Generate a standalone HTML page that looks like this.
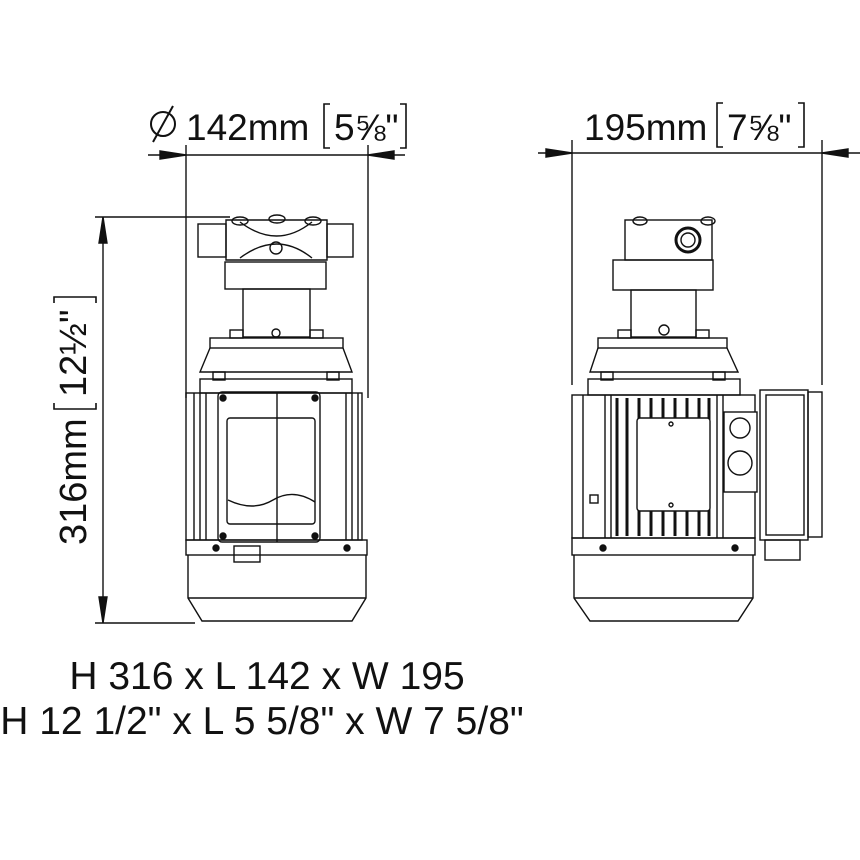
<!DOCTYPE html>
<html><head><meta charset="utf-8"><style>
html,body{margin:0;padding:0;background:#fff;}
svg{display:block;}
text{font-family:"Liberation Sans",Arial,sans-serif;fill:#111;}
</style></head><body>
<svg width="860" height="860" viewBox="0 0 860 860" xmlns="http://www.w3.org/2000/svg">
<g stroke="#111" fill="none" stroke-width="1.4">
<line x1="186" y1="145" x2="186" y2="398"/>
<line x1="368" y1="145" x2="368" y2="398"/>
<line x1="148" y1="155" x2="405" y2="155"/>
<polygon points="160,151 186,155 160,159" fill="#111"/>
<polygon points="394,151 368,155 394,159" fill="#111"/>
<path d="M330,104 h-6 v44 h6 M400,104 h6 v44 h-6" stroke-width="1.6"/>
<circle cx="163" cy="124" r="12" stroke-width="2"/>
<line x1="153" y1="142" x2="173" y2="106" stroke-width="2"/>
<line x1="572" y1="140" x2="572" y2="385"/>
<line x1="822" y1="140" x2="822" y2="385"/>
<line x1="538" y1="153" x2="860" y2="153"/>
<polygon points="546,149 572,153 546,157" fill="#111"/>
<polygon points="848,149 822,153 848,157" fill="#111"/>
<path d="M723,103 h-6 v44 h6 M798,103 h6 v44 h-6" stroke-width="1.6"/>
<line x1="95" y1="217" x2="230" y2="217"/>
<line x1="95" y1="623" x2="195" y2="623"/>
<line x1="103" y1="217" x2="103" y2="623"/>
<polygon points="99,243 103,217 107,243" fill="#111"/>
<polygon points="99,597 103,623 107,597" fill="#111"/>
<path d="M54,303 v-6 h42 v6 M54,403 v6 h42 v-6" stroke-width="1.6"/>

<rect x="198" y="224" width="28" height="33"/>
<rect x="327" y="224" width="26" height="33"/>
<path d="M226,220 h101 v40 h-101 z"/>
<path d="M240,222 q37,28 72,0 M240,258 q37,-28 72,0"/>
<circle cx="276" cy="248" r="6"/>
<ellipse cx="240" cy="221" rx="8" ry="4"/><ellipse cx="277" cy="219" rx="8" ry="4"/><ellipse cx="313" cy="221" rx="8" ry="4"/>
<rect x="225" y="262" width="101" height="27"/>
<rect x="243" y="289" width="67" height="48"/>
<circle cx="276" cy="333" r="4"/>
<rect x="230" y="330" width="13" height="8"/><rect x="310" y="330" width="13" height="8"/>
<rect x="210" y="338" width="133" height="10"/>
<path d="M210,348 L200,372 H352 L343,348"/>
<rect x="200" y="379" width="152" height="14"/>
<rect x="213" y="372" width="12" height="8"/><rect x="327" y="372" width="12" height="8"/>
<rect x="186" y="393" width="176" height="147"/>
<line x1="194" y1="393" x2="194" y2="540"/><line x1="200" y1="393" x2="200" y2="540"/><line x1="206" y1="393" x2="206" y2="540"/>
<line x1="346" y1="393" x2="346" y2="540"/><line x1="352" y1="393" x2="352" y2="540"/><line x1="358" y1="393" x2="358" y2="540"/>
<rect x="218" y="392" width="102" height="150" rx="4"/>
<line x1="277" y1="393" x2="277" y2="542"/>
<rect x="227" y="418" width="88" height="106" rx="3"/>
<path d="M228,500 q25,12 45,0 t42,2"/>
<circle cx="223" cy="398" r="3" fill="#111"/><circle cx="315" cy="398" r="3" fill="#111"/>
<circle cx="223" cy="536" r="3" fill="#111"/><circle cx="315" cy="536" r="3" fill="#111"/>
<rect x="186" y="540" width="181" height="15"/>
<rect x="234" y="546" width="26" height="16"/>
<circle cx="216" cy="548" r="3" fill="#111"/><circle cx="347" cy="548" r="3" fill="#111"/>
<path d="M188,555 V598 L202,621 H352 L366,598 V555"/>
<line x1="188" y1="598" x2="366" y2="598"/>

<rect x="625" y="220" width="87" height="40"/>
<circle cx="688" cy="240" r="12" stroke-width="3"/>
<circle cx="688" cy="240" r="7"/>
<ellipse cx="640" cy="221" rx="7" ry="4"/><ellipse cx="708" cy="221" rx="7" ry="4"/>
<rect x="613" y="260" width="100" height="30"/>
<rect x="631" y="290" width="65" height="47"/>
<circle cx="664" cy="330" r="5"/>
<rect x="618" y="330" width="13" height="8"/><rect x="696" y="330" width="13" height="8"/>
<rect x="598" y="338" width="129" height="10"/>
<path d="M598,348 L590,372 H738 L727,348"/>
<rect x="588" y="379" width="152" height="16"/>
<rect x="601" y="372" width="12" height="8"/><rect x="713" y="372" width="12" height="8"/>
<rect x="572" y="395" width="183" height="143"/>
<line x1="583" y1="395" x2="583" y2="538"/>
<line x1="605" y1="395" x2="605" y2="538"/><line x1="611" y1="395" x2="611" y2="538"/>
<line x1="717" y1="395" x2="717" y2="538"/><line x1="723" y1="395" x2="723" y2="538"/>
<g stroke-width="3"><line x1="617" y1="398" x2="617" y2="536"/><line x1="627" y1="398" x2="627" y2="536"/><line x1="639" y1="398" x2="639" y2="536"/><line x1="651" y1="398" x2="651" y2="536"/><line x1="663" y1="398" x2="663" y2="536"/><line x1="675" y1="398" x2="675" y2="536"/><line x1="687" y1="398" x2="687" y2="536"/><line x1="699" y1="398" x2="699" y2="536"/><line x1="709" y1="398" x2="709" y2="536"/></g>
<rect x="637" y="418" width="73" height="93" rx="3" fill="#fff"/>
<circle cx="671" cy="424" r="2"/><circle cx="671" cy="505" r="2"/>
<rect x="590" y="495" width="8" height="8"/>
<rect x="724" y="412" width="33" height="80" fill="#fff"/>
<circle cx="740" cy="428" r="10"/><circle cx="740" cy="463" r="12"/>
<rect x="760" y="390" width="48" height="150" fill="#fff"/>
<rect x="766" y="395" width="38" height="140"/>
<rect x="808" y="392" width="14" height="145"/>
<rect x="765" y="540" width="35" height="20"/>
<rect x="572" y="538" width="183" height="17"/>
<circle cx="603" cy="548" r="3" fill="#111"/><circle cx="735" cy="548" r="3" fill="#111"/>
<path d="M574,555 V598 L590,621 H738 L753,598 V555"/>
<line x1="574" y1="598" x2="753" y2="598"/>
</g>
<text x="186" y="140" font-size="37">142mm</text>
<text x="334" y="140" font-size="37">5⅝"</text>
<text x="584" y="140" font-size="37">195mm</text>
<text x="727" y="140" font-size="37">7⅝"</text>
<text transform="translate(86,545) rotate(-90)" font-size="38">316mm</text>
<text transform="translate(86,397) rotate(-90)" font-size="38">12½"</text>
<text x="267" y="689" font-size="39" text-anchor="middle">H 316 x L 142 x W 195</text>
<text x="262" y="734" font-size="39" text-anchor="middle">H 12 1/2" x L 5 5/8" x W 7 5/8"</text>
</svg>
</body></html>
